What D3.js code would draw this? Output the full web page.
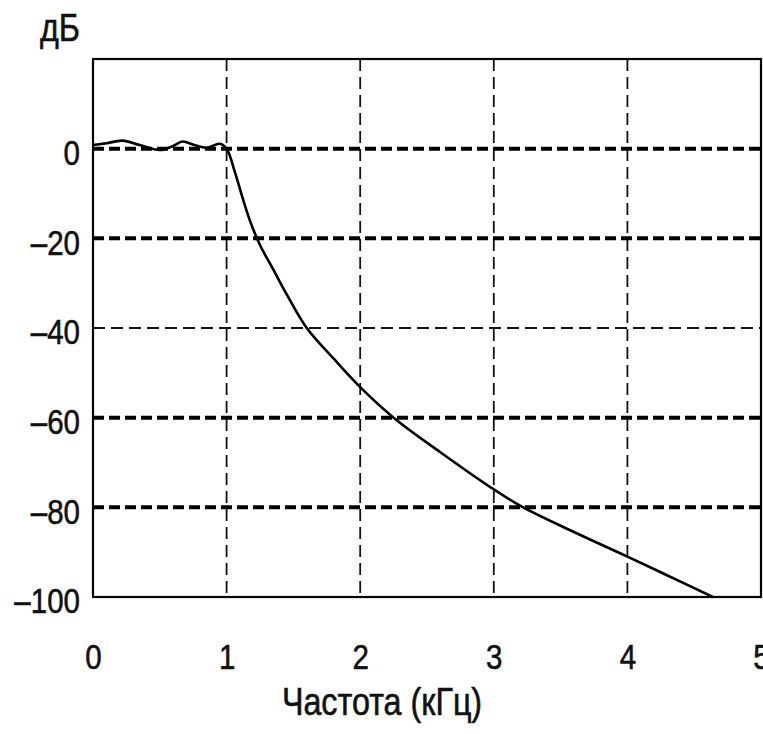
<!DOCTYPE html>
<html>
<head>
<meta charset="utf-8">
<script src="https://cdn.jsdelivr.net/npm/d3@7"></script>
<style>
  html, body { margin: 0; padding: 0; background: #fff; }
  svg { display: block; }
  text { font-family: "Liberation Sans", Arial, sans-serif; fill: #111; stroke: #111; stroke-width: 0.6; }
</style>
</head>
<body>
<div id="root"></div>
<script>
// frequency response
const freqKHz = [0, 0.1, 0.22, 0.35, 0.5, 0.6, 0.67, 0.76, 0.85, 0.95, 1.0,
                 1.06, 1.12, 1.18, 1.25, 1.35, 1.45, 1.6, 1.8, 2.0, 2.25, 2.6, 3.0, 3.22, 3.6, 4.0, 4.3, 4.64];
const gainDb = [0.8, 1.2, 1.8, 0.8, -0.3, 0.6, 1.6, 0.8, 0.2, 1.1, 0,
                -5, -11, -16.5, -21.5, -27, -32.5, -40, -46.8, -53.2, -60, -67.7, -76, -80, -85.5, -91, -95.2, -100];

const xTicks = [0, 1, 2, 3, 4, 5];
const yTicks = [0, -20, -40, -60, -80, -100];
const boldGrid = [0, -20, -60, -80];   // these are drawn with heavy dashes
const thinGrid = [-40];

const width = 763, height = 734;
const margin = { top: 59, right: 2, bottom: 137, left: 93 };

const svg = d3.select("#root")
    .append("svg")
    .attr("width", width)
    .attr("height", height);

svg.append("rect")
    .attr("width", width)
    .attr("height", height)
    .attr("fill", "#fff");

const x = d3.scaleLinear()
    .domain([0, 5])
    .range([margin.left, width - margin.right]);

const y = d3.scaleLinear()
    .domain([-100, 20])
    .range([height - margin.bottom, margin.top]);

// no narrow font installed, so squash Liberation Sans horizontally
function narrow(sel, k) {
    sel.each(function() {
        const t = d3.select(this);
        const tx = +t.attr("x") || 0;
        t.attr("x", tx / k)
         .attr("transform", `scale(${k},1)`);
    });
}

// vertical grid
svg.append("g")
    .selectAll("line")
    .data(xTicks.filter(d => d > 0 && d < 5))
    .enter()
    .append("line")
        .attr("x1", d => x(d))
        .attr("x2", d => x(d))
        .attr("y1", y(20))
        .attr("y2", y(-100))
        .attr("stroke", "#111")
        .attr("stroke-width", 1.8)
        .attr("stroke-dasharray", "12,6");

// horizontal grid
svg.append("g")
    .selectAll("line")
    .data(thinGrid)
    .enter()
    .append("line")
        .attr("x1", x(0))
        .attr("x2", x(5))
        .attr("y1", d => y(d))
        .attr("y2", d => y(d))
        .attr("stroke", "#111")
        .attr("stroke-width", 1.8)
        .attr("stroke-dasharray", "12,6");

svg.append("g")
    .selectAll("line")
    .data(boldGrid)
    .enter()
    .append("line")
        .attr("x1", x(0))
        .attr("x2", x(5))
        .attr("y1", d => y(d))
        .attr("y2", d => y(d))
        .attr("stroke", "#000")
        .attr("stroke-width", 4)
        .attr("stroke-dasharray", "11,5");

// frame
svg.append("rect")
    .attr("x", x(0))
    .attr("y", y(20))
    .attr("width", x(5) - x(0))
    .attr("height", y(-100) - y(20))
    .attr("fill", "none")
    .attr("stroke", "#000")
    .attr("stroke-width", 2.2);

// response curve
const line = d3.line()
    .x((d, i) => x(freqKHz[i]))
    .y(d => y(d))
    .curve(d3.curveCatmullRom.alpha(0.5));

svg.append("path")
    .datum(gainDb)
    .attr("d", line)
    .attr("fill", "none")
    .attr("stroke", "#000")
    .attr("stroke-width", 2.6)
    .attr("stroke-linejoin", "round");

// axes (ticks hidden, only labels)
const xAxis = d3.axisBottom(x)
    .tickValues(xTicks)
    .tickSize(0)
    .tickPadding(0)
    .tickFormat(d3.format("d"));

svg.append("g")
    .attr("transform", `translate(0, ${y(-100) + 72})`)
    .call(xAxis)
    .call(g => g.select(".domain").remove())
    .selectAll("text")
        .attr("dy", 0)
        .attr("font-size", 36)
        .attr("fill", "#111")
        .call(narrow, 0.82);

const yAxis = d3.axisLeft(y)
    .tickValues(yTicks)
    .tickSize(0)
    .tickPadding(13)
    .tickFormat(d => d < 0 ? "\u2013" + Math.abs(d) : d);

svg.append("g")
    .attr("transform", `translate(${x(0)}, 0)`)
    .call(yAxis)
    .call(g => g.select(".domain").remove())
    .selectAll("text")
        .attr("dy", "0.44em")
        .attr("font-size", 36)
        .attr("fill", "#111")
        .call(narrow, 0.82);

// axis titles
svg.append("g")
    .attr("transform", "translate(40, 41)")
    .append("text")
        .attr("font-size", 38)
        .text("дБ")
        .call(narrow, 0.85);

svg.append("g")
    .attr("transform", "translate(382, 715)")
    .append("text")
        .attr("text-anchor", "middle")
        .attr("font-size", 38)
        .text("Частота (кГц)")
        .call(narrow, 0.85);
</script>
</body>
</html>
